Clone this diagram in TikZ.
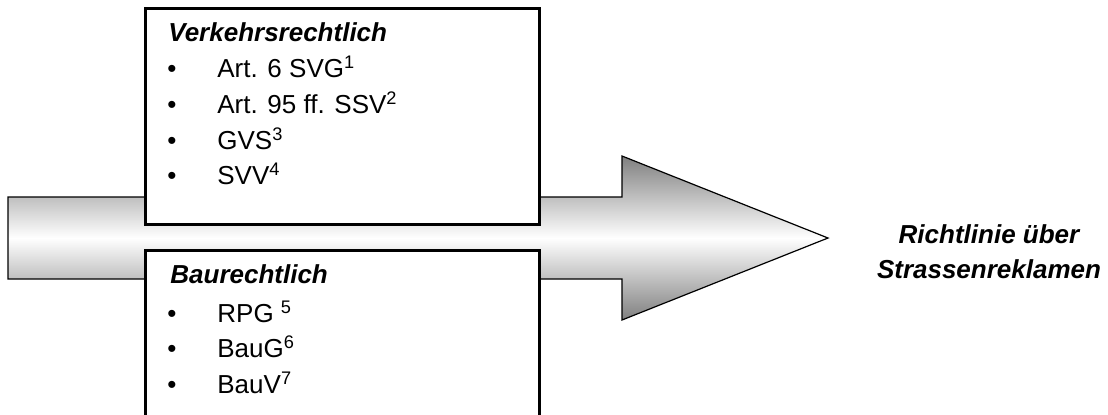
\documentclass[tikz,border=0pt]{standalone}
\usepackage{fontspec}
\setmainfont{Liberation Sans}
\usetikzlibrary{positioning}

\tikzset{
    listbox/.style={draw=black, line width=1.5pt, fill=white, inner sep=0pt, anchor=north west},
    heading/.style={anchor=base west, inner sep=0pt, font=\fontsize{13}{16}\selectfont\bfseries\itshape},
    entry/.style={anchor=base west, inner sep=0pt, font=\fontsize{13}{16}\selectfont},
    bullet/.style={anchor=base, inner sep=0pt, font=\fontsize{13}{16}\selectfont},
}

\begin{document}
\begin{tikzpicture}[x=0.5pt, y=-0.5pt]
        \useasboundingbox (0,0) rectangle (1108,414);
        \clip (0,0) rectangle (1108,414);
        % big arrow
        \draw [line width=0.6pt, top color=black!50, bottom color=black!50, middle color=white]
            (8,197) -- (622,197) -- (622,156) -- (828,238) -- (622,320) -- (622,279) -- (8,279) -- cycle;

        % traffic law
        \node [listbox, minimum width=197pt, minimum height=108pt] (verkehr) at (144,7) {};
        \node [heading] (vhead) at (168,41) {Verkehrsrechtlich};
        \node [bullet] (vb1) at (172,77) {•};
        \node [entry] (v1) at (217,77) {Art. 6 SVG\textsuperscript{1}};
        \node [bullet] (vb2) at (172,113) {•};
        \node [entry] (v2) at (217,113) {Art. 95 ff. SSV\textsuperscript{2}};
        \node [bullet] (vb3) at (172,149) {•};
        \node [entry] (v3) at (217,149) {GVS\textsuperscript{3}};
        \node [bullet] (vb4) at (172,184) {•};
        \node [entry] (v4) at (217,184) {SVV\textsuperscript{4}};

        % building law
        \node [listbox, minimum width=197pt, minimum height=100pt] (bau) at (144,249) {};
        \node [heading] (bhead) at (170,283) {Baurechtlich};
        \node [bullet] (bb1) at (172,322) {•};
        \node [entry] (b1) at (217,322) {RPG \textsuperscript{5}};
        \node [bullet] (bb2) at (172,357) {•};
        \node [entry] (b2) at (217,357) {BauG\textsuperscript{6}};
        \node [bullet] (bb3) at (172,393) {•};
        \node [entry] (b3) at (217,393) {BauV\textsuperscript{7}};

        % result
        \node [heading, anchor=base] (ziel1) at (989,243) {Richtlinie über};
        \node [heading, anchor=base] (ziel2) at (989,278) {Strassenreklamen};
    \end{tikzpicture}
\end{document}
